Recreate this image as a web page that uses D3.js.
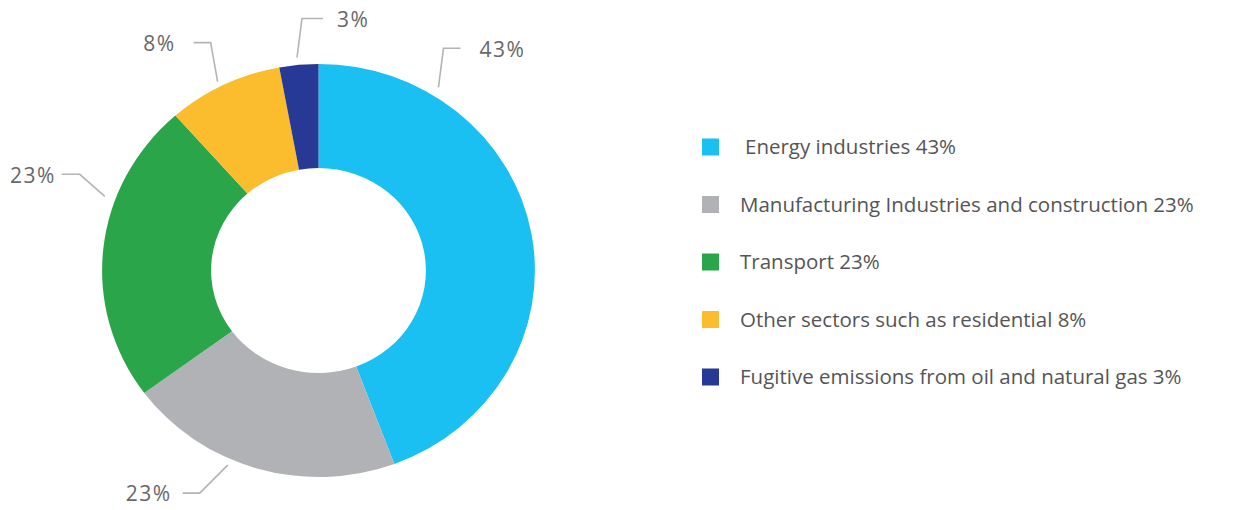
<!DOCTYPE html>
<html lang="en">
<head>
    <meta charset="UTF-8">
    <script src="https://cdnjs.cloudflare.com/ajax/libs/d3/7.8.5/d3.min.js"></script>
    <title>Emissions by sector</title>
    <style>
        body { margin: 0; background: #fff; }
        text { font-family: "Open Sans", "Noto Sans", sans-serif; }
    </style>
</head>
<body>
    <svg width="1235" height="510"></svg>
    <script>
        // sectors
        const sectors = ["Energy industries", "Manufacturing Industries and construction", "Transport",
            "Other sectors such as residential", "Fugitive emissions from oil and natural gas"]
        const percentLabels = ["43%", "23%", "23%", "8%", "3%"]
        // slice sizes as actually drawn (a bit off the printed labels)
        const shares = [44.3, 20.6, 23.6, 8.6, 2.9]
        const colors = ["#19c0f1", "#b1b2b6", "#2ba54a", "#fbbd2d", "#263994"]

        const cx = 318.5, cy = 270.5, rOuter = 206.5, rInner = 102.5, sx = 1.048

        const svg = d3.select("svg")

        const pie = d3.pie().sort(null).value(d => d)
        const arc = d3.arc().innerRadius(rInner).outerRadius(rOuter)
        const arcs = pie(shares)

        svg.append("g")
            .attr("transform", `translate(${cx},${cy}) scale(${sx},1)`)
            .selectAll("path")
            .data(arcs)
            .enter()
            .append("path")
            .attr("d", arc)
            .style("fill", (d, i) => colors[i])

        // leader lines: anchor angle on the ring (deg), elbow offset, horizontal run, text gap
        const leaders = [
            { a: 32, r: 216, ex: 5, ey: -39, run: 17, gap: 19, side: 1 },
            { a: 204, r: 213, ex: -28, ey: 28, run: -17, gap: 11, side: -1 },
            { a: -70, r: 217, ex: -25, ey: -22, run: -18, gap: 6, side: -1 },
            { a: -27, r: 212, ex: -7, ey: -39, run: -17, gap: 18, side: -1 },
            { a: -5.5, r: 214, ex: 5, ey: -39, run: 21, gap: 14, side: 1 }
        ]

        const lab = svg.append("g")
            .selectAll("g")
            .data(leaders)
            .enter()
            .append("g")

        lab.each(function (d, i) {
            const rad = d.a * Math.PI / 180
            const x0 = cx + sx * d.r * Math.sin(rad)
            const y0 = cy - d.r * Math.cos(rad)
            const x1 = x0 + d.ex, y1 = y0 + d.ey
            const x2 = x1 + d.run
            const g = d3.select(this)
            g.append("polyline")
                .attr("points", `${x0},${y0} ${x1},${y1} ${x2},${y1}`)
                .style("fill", "none")
                .style("stroke", "#b4b4b4")
                .style("stroke-width", "1.6px")
            g.append("text")
                .attr("x", x2 + d.side * d.gap)
                .attr("y", y1 + 1)
                .attr("dy", "0.35em")
                .style("text-anchor", d.side > 0 ? "start" : "end")
                .style("font-size", "21px")
                .style("letter-spacing", "1.5px")
                .style("fill", "#686868")
                .text(percentLabels[i])
        })

        // legend
        const legend = svg.append("g")
            .selectAll("g")
            .data(sectors)
            .enter()
            .append("g")
            .attr("transform", (d, i) => `translate(702,${147 + i * 57.5})`)

        legend.append("rect")
            .attr("x", 0)
            .attr("y", -8.5)
            .attr("width", 17)
            .attr("height", 17)
            .style("fill", (d, i) => colors[i])

        legend.append("text")
            .attr("x", (d, i) => i === 0 ? 43 : 38)
            .attr("dy", "0.35em")
            .style("font-size", "20.5px")
            .style("fill", "#555")
            .text((d, i) => `${d} ${percentLabels[i]}`)
    </script>
</body>
</html>
